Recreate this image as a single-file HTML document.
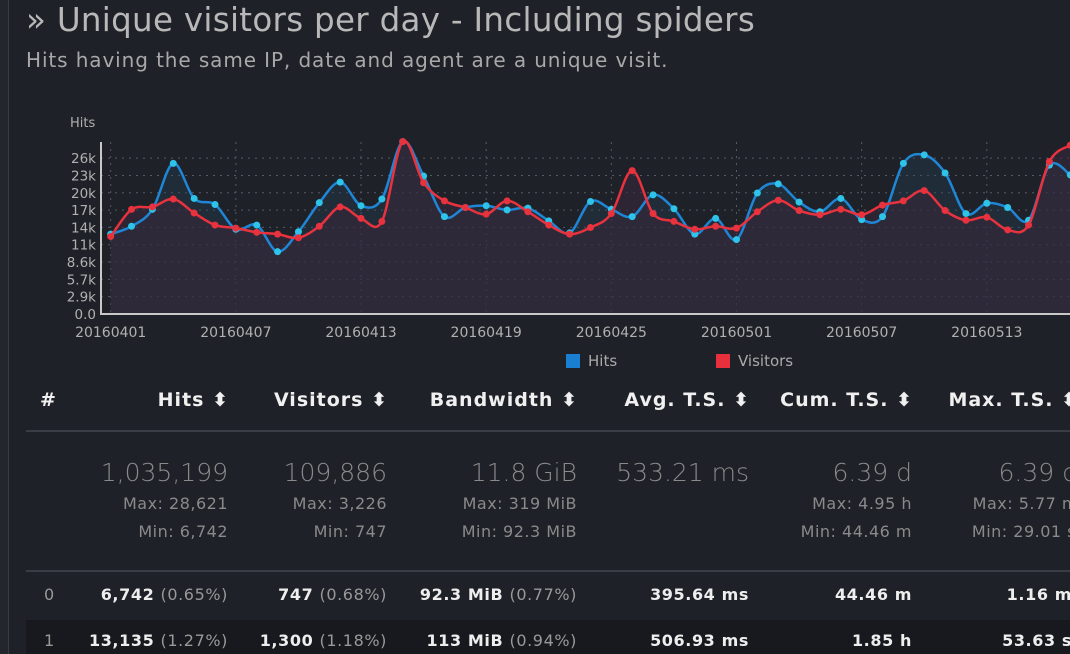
<!DOCTYPE html>
<html><head><meta charset="utf-8">
<style>
html,body{margin:0;padding:0}
body{width:1070px;height:654px;overflow:hidden;background:#1f2128;position:relative;font-family:"DejaVu Sans","Liberation Sans",sans-serif;}
.abs{position:absolute;white-space:nowrap}
.r{text-align:right}
.hd{font-weight:bold;font-size:19px;color:#f0f0f0;top:389px;letter-spacing:1px}
.big{font-size:25px;color:#8a8a8a;top:458px;font-weight:300}
.sm{font-size:16px;color:#8a8a8a;letter-spacing:0.5px}
.row{font-size:16px;color:#eee;font-weight:bold;letter-spacing:0.6px}
.row span{color:#999;font-weight:normal}
</style></head>
<body>
<div class="abs" style="left:0;top:0;width:8px;height:654px;background:#24262d;border-right:1px solid #3a3c44"></div>
<div class="abs" style="left:26px;top:1px;font-size:32.5px;color:#b8b8b8;letter-spacing:0.3px">» Unique visitors per day - Including spiders</div>
<div class="abs" style="left:26px;top:48px;font-size:20px;color:#a8a8a8;letter-spacing:0.9px">Hits having the same IP, date and agent are a unique visit.</div>

<svg class="abs" style="left:0;top:0" width="1070" height="380" id="chart"></svg>

<div class="abs" style="left:566px;top:352px;font-size:15px;color:#aaa"><span style="display:inline-block;width:14px;height:14px;background:#1a7fd0;vertical-align:-2px;margin-right:8px"></span>Hits</div>
<div class="abs" style="left:716px;top:352px;font-size:15px;color:#aaa"><span style="display:inline-block;width:14px;height:14px;background:#e8303c;vertical-align:-2px;margin-right:8px"></span>Visitors</div>

<div class="abs hd" style="left:40px">#</div>
<div class="abs hd r" style="right:841px">Hits ⬍</div>
<div class="abs hd r" style="right:682px">Visitors ⬍</div>
<div class="abs hd r" style="right:492px">Bandwidth ⬍</div>
<div class="abs hd r" style="right:320px">Avg. T.S. ⬍</div>
<div class="abs hd r" style="right:157px">Cum. T.S. ⬍</div>
<div class="abs hd r" style="right:-8px">Max. T.S. ⬍</div>
<div class="abs" style="left:26px;top:430px;width:1044px;height:2px;background:#3a3d45"></div>

<div class="abs big r" style="right:842px">1,035,199</div>
<div class="abs big r" style="right:683px">109,886</div>
<div class="abs big r" style="right:493px">11.8 GiB</div>
<div class="abs big r" style="right:321px">533.21 ms</div>
<div class="abs big r" style="right:158px">6.39 d</div>
<div class="abs big r" style="right:-8px">6.39 d</div>
<div class="abs sm r" style="right:842px;top:494px">Max: 28,621</div>
<div class="abs sm r" style="right:683px;top:494px">Max: 3,226</div>
<div class="abs sm r" style="right:493px;top:494px">Max: 319 MiB</div>
<div class="abs sm r" style="right:158px;top:494px">Max: 4.95 h</div>
<div class="abs sm r" style="right:-8px;top:494px">Max: 5.77 m</div>
<div class="abs sm r" style="right:842px;top:522px">Min: 6,742</div>
<div class="abs sm r" style="right:683px;top:522px">Min: 747</div>
<div class="abs sm r" style="right:493px;top:522px">Min: 92.3 MiB</div>
<div class="abs sm r" style="right:158px;top:522px">Min: 44.46 m</div>
<div class="abs sm r" style="right:-6px;top:522px">Min: 29.01 s</div>
<div class="abs" style="left:26px;top:570px;width:1044px;height:2px;background:#3a3d45"></div>

<div class="abs" style="left:26px;top:572px;width:1044px;height:46px"></div>
<div class="abs row" style="left:44px;top:585px;color:#999;font-weight:normal">0</div>
<div class="abs row r" style="right:842px;top:585px">6,742 <span>(0.65%)</span></div>
<div class="abs row r" style="right:683px;top:585px">747 <span>(0.68%)</span></div>
<div class="abs row r" style="right:493px;top:585px">92.3 MiB <span>(0.77%)</span></div>
<div class="abs row r" style="right:321px;top:585px">395.64 ms</div>
<div class="abs row r" style="right:158px;top:585px">44.46 m</div>
<div class="abs row r" style="right:-2px;top:585px">1.16 m</div>

<div class="abs" style="left:26px;top:620px;width:1044px;height:34px;background:#18191e"></div>
<div class="abs row" style="left:44px;top:631px;color:#999;font-weight:normal">1</div>
<div class="abs row r" style="right:842px;top:631px">13,135 <span>(1.27%)</span></div>
<div class="abs row r" style="right:683px;top:631px">1,300 <span>(1.18%)</span></div>
<div class="abs row r" style="right:493px;top:631px">113 MiB <span>(0.94%)</span></div>
<div class="abs row r" style="right:321px;top:631px">506.93 ms</div>
<div class="abs row r" style="right:158px;top:631px">1.85 h</div>
<div class="abs row r" style="right:-2px;top:631px">53.63 s</div>

<script>
const dayLabels = ["20160401","20160407","20160413","20160419","20160425","20160501","20160507","20160513"];
const yTickLabels = ["0.0","2.9k","5.7k","8.6k","11k","14k","17k","20k","23k","26k"];
const hits = [13.2,14.5,17.3,24.9,19.1,18.1,14.0,14.7,10.3,13.6,18.4,21.8,17.9,19.0,28.5,22.8,16.1,17.6,17.9,17.2,17.5,15.4,13.4,18.6,17.3,16.1,19.7,17.4,13.2,15.8,12.3,20.0,21.5,18.5,16.9,19.1,15.6,16.1,24.9,26.3,23.3,16.6,18.3,17.6,15.5,24.6,23.0];
const visitors = [12.8,17.3,17.7,19.0,16.7,14.7,14.2,13.5,13.2,12.6,14.5,17.7,15.8,15.3,28.5,21.7,18.7,17.6,16.5,18.7,16.9,14.7,13.2,14.3,16.6,23.7,16.6,15.3,14.0,14.5,14.2,16.9,18.8,17.1,16.4,17.3,16.4,18.0,18.7,20.4,17.1,15.5,16.0,13.9,14.7,25.2,27.9];

const NS="http://www.w3.org/2000/svg";
const svg=document.getElementById('chart');
const x0=110.7, dx=20.86, yBase=314, pxPerK=6.05;
const X=i=>x0+i*dx;
const Y=v=>yBase-v*pxPerK;
function mk(tag,attrs,parent){const e=document.createElementNS(NS,tag);for(const k in attrs)e.setAttribute(k,attrs[k]);(parent||svg).appendChild(e);return e;}

yTickLabels.forEach((t,i)=>{
  const v=i*2.8621, y=Y(v);
  if(i>0){const g=mk('line',{x1:101,x2:1070,y1:y,y2:y,stroke:'#555a66','stroke-dasharray':'2,5','stroke-width':1});
  
  }
  const tx=mk('text',{x:96,y:y+5,'text-anchor':'end','font-size':13.5,fill:'#b0b0b0','font-family':'DejaVu Sans, sans-serif'});
  tx.textContent=t;
  
  
});
dayLabels.forEach((t,i)=>{
  const x=X(i*6);
  const g=mk('line',{x1:x,x2:x,y1:142,y2:314,stroke:'#555a66','stroke-dasharray':'2,5'});
  
  
  const tx=mk('text',{x:x,y:337,'text-anchor':'middle','font-size':14,fill:'#b0b0b0','font-family':'DejaVu Sans, sans-serif'});
  tx.textContent=t;
  
  
});
const yt=mk('text',{x:70,y:127,'font-size':13,fill:'#b0b0b0','font-family':'DejaVu Sans, sans-serif'});
yt.textContent='Hits';



function smooth(vals){
  const p=vals.map((v,i)=>[X(i),Y(v)]);
  let d='M'+p[0][0]+','+p[0][1];
  for(let i=0;i<p.length-1;i++){
    const a=p[i-1]||p[i],b=p[i],c=p[i+1],e=p[i+2]||c;
    const c1=[b[0]+(c[0]-a[0])/6,b[1]+(c[1]-a[1])/6],c2=[c[0]-(e[0]-b[0])/6,c[1]-(e[1]-b[1])/6];
    d+=`C${c1[0]},${c1[1]} ${c2[0]},${c2[1]} ${c[0]},${c[1]}`;
  }
  return d;
}
function series(vals,color,dot,fill,name){
  const n=vals.length;
  const area=mk('path',{d:smooth(vals)+`L${X(n-1)},${yBase}L${X(0)},${yBase}Z`,fill:fill});
  
  
  return ()=>{
    const l=mk('path',{d:smooth(vals),fill:'none',stroke:color,'stroke-width':2.5});
    
    
    vals.forEach((v,i)=>{
      const c=mk('circle',{cx:X(i),cy:Y(v),r:3.5,fill:dot});
      
      
    });
  };
}
const dh=series(hits,'#1f86d6','#2ec4ea','rgba(40,70,100,0.3)','hits');
const dv=series(visitors,'#e8323e','#e8323e','rgba(55,40,58,0.6)','visitors');
dh(); dv();
const ax=mk('path',{d:'M101,142V314H1070',fill:'none',stroke:'#c8c8c8','stroke-width':2});


</script>
</body></html>
